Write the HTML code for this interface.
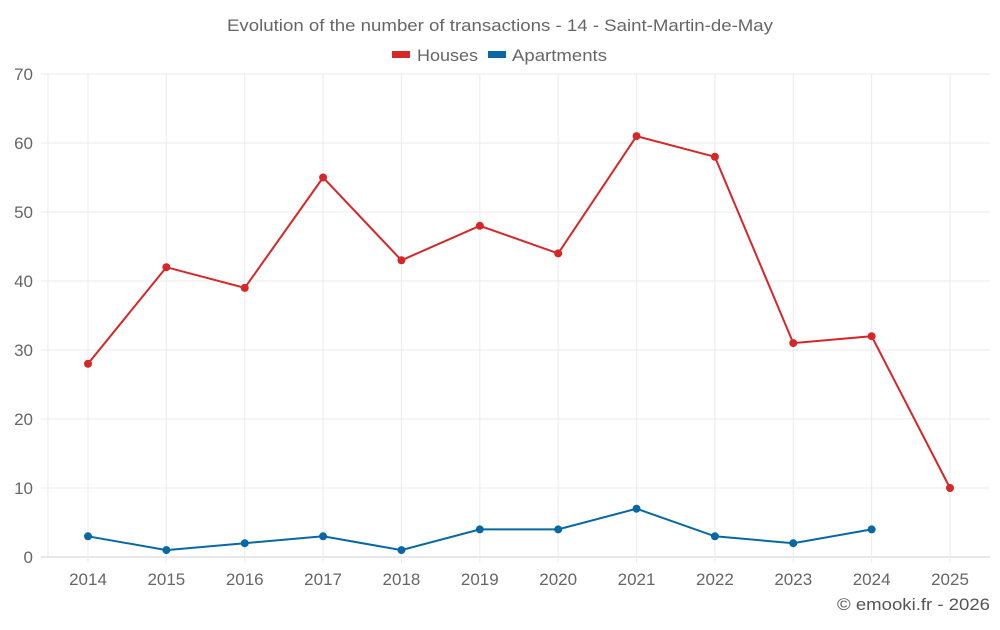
<!DOCTYPE html>
<html><head><meta charset="utf-8"><style>
body{margin:0;background:#fff;}
svg{font-family:"Liberation Sans",sans-serif;}
</style></head><body>
<svg id="c" width="1000" height="625">
<text x="227" y="31" textLength="546" lengthAdjust="spacingAndGlyphs" font-size="17" fill="#666">Evolution of the number of transactions - 14 - Saint-Martin-de-May</text>
<g><rect x="392" y="51" width="18" height="7" fill="#d62728"/><text x="417" y="61" textLength="61" lengthAdjust="spacingAndGlyphs" font-size="17" fill="#666">Houses</text></g>
<g><rect x="488" y="51" width="18" height="7" fill="#0868a4"/><text x="512" y="61" textLength="95" lengthAdjust="spacingAndGlyphs" font-size="17" fill="#666">Apartments</text></g>
<g id="grid"></g><g id="marks"></g>
<text x="837" y="610" textLength="153" lengthAdjust="spacingAndGlyphs" font-size="17" fill="#555">© emooki.fr - 2026</text>
</svg>
<script>
const years=['2014','2015','2016','2017','2018','2019','2020','2021','2022','2023','2024','2025'];
const houses=[28,42,39,55,43,48,44,61,58,31,32,10];
const apartments=[3,1,2,3,1,4,4,7,3,2,4];
const yTicks=[0,10,20,30,40,50,60,70];
const NS='http://www.w3.org/2000/svg';
const L=48,R=990,T=74,B=557;
const x=i=>88+i*(950-88)/(years.length-1);
const y=v=>B-(v/70)*(B-T);
function mk(t,a,p){const e=document.createElementNS(NS,t);for(const k in a)e.setAttribute(k,a[k]);p.appendChild(e);return e;}
const g=document.getElementById('grid'),m=document.getElementById('marks');
yTicks.forEach(v=>{
 const l=mk('line',{x1:41,x2:R,y1:y(v),y2:y(v),stroke:v?'#ebebeb':'#d0d0d0'},g);
 
 
 const t=mk('text',{x:33,y:y(v)+6,'text-anchor':'end','font-size':17,fill:'#666'},g);t.textContent=v;
 
 
});
mk('line',{x1:L,x2:L,y1:T,y2:B,stroke:'#ebebeb'},g);
years.forEach((yr,i)=>{
 const l=mk('line',{x1:x(i),x2:x(i),y1:T,y2:B+6,stroke:'#ebebeb'},g);
 
 
 const t=mk('text',{x:x(i),y:585,'text-anchor':'middle','font-size':17,fill:'#666'},g);t.textContent=yr;
 
 
});
function series(vals,col,name){
 const p=mk('polyline',{points:vals.map((v,i)=>x(i)+','+y(v)).join(' '),fill:'none',stroke:col,'stroke-width':2},m);
 
 
 vals.forEach((v,i)=>{const c=mk('circle',{cx:x(i),cy:y(v),r:4,fill:col},m);
 
 });
}
series(houses,'#d62728','houses');
series(apartments,'#0868a4','apartments');
</script>
</body></html>
